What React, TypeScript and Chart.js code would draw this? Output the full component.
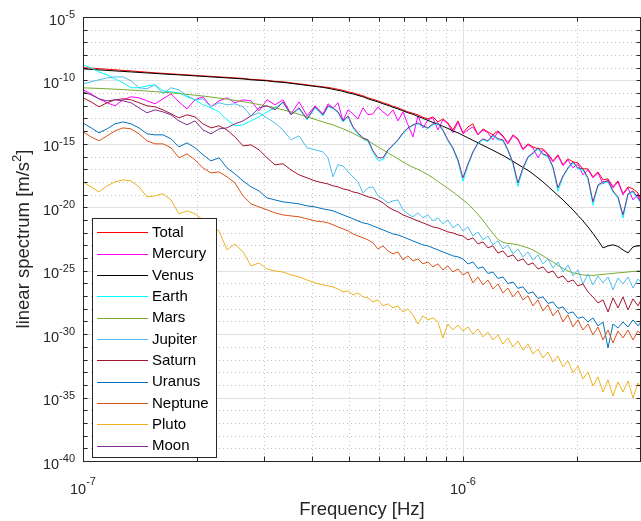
import React, { useEffect, useRef } from 'react';
import { Chart, registerables } from 'chart.js';

Chart.register(...registerables);

// Frequency grid [Hz]
const frequencyHz = [
  1.000e-7, 1.050e-7, 1.102e-7, 1.157e-7, 1.214e-7, 1.274e-7, 1.338e-7, 1.404e-7, 1.474e-7, 1.547e-7,
  1.624e-7, 1.704e-7, 1.789e-7, 1.878e-7, 1.971e-7, 2.069e-7, 2.172e-7, 2.280e-7, 2.393e-7, 2.512e-7,
  2.637e-7, 2.768e-7, 2.905e-7, 3.050e-7, 3.201e-7, 3.360e-7, 3.527e-7, 3.703e-7, 3.887e-7, 4.080e-7,
  4.283e-7,
  4.414e-7, 4.549e-7, 4.689e-7, 4.833e-7, 4.982e-7, 5.135e-7, 5.292e-7, 5.456e-7, 5.623e-7, 5.796e-7,
  5.974e-7, 6.158e-7, 6.347e-7, 6.542e-7, 6.743e-7, 6.950e-7, 7.164e-7, 7.384e-7, 7.611e-7, 7.845e-7,
  8.086e-7, 8.334e-7, 8.590e-7, 8.854e-7, 9.126e-7, 9.406e-7, 9.702e-7, 1.000e-6, 1.031e-6, 1.062e-6,
  1.095e-6, 1.129e-6, 1.163e-6, 1.199e-6, 1.236e-6, 1.274e-6, 1.313e-6, 1.354e-6, 1.395e-6, 1.438e-6,
  1.483e-6, 1.528e-6, 1.575e-6, 1.624e-6, 1.674e-6, 1.725e-6, 1.778e-6, 1.833e-6, 1.889e-6, 1.947e-6,
  2.007e-6, 2.069e-6, 2.133e-6, 2.198e-6, 2.266e-6, 2.336e-6, 2.408e-6, 2.482e-6, 2.558e-6, 2.637e-6,
  2.718e-6, 2.802e-6, 2.888e-6, 2.941e-6,
];

// Series values as log10 of the linear spectrum [m/s^2]
const totalExp = [
  -8.99, -9.03, -9.07, -9.12, -9.16, -9.21, -9.25, -9.30, -9.35, -9.40,
  -9.44, -9.48, -9.52, -9.56, -9.60, -9.64, -9.68, -9.72, -9.76, -9.80,
  -9.84, -9.91, -9.95, -9.99, -10.07, -10.11, -10.19, -10.27, -10.35, -10.43,
  -10.51,
  -10.55, -10.62, -10.70, -10.78, -10.90, -10.98, -11.10, -11.21, -11.37, -11.49,
  -11.61, -11.76, -11.88, -12.04, -12.16, -12.32, -12.48, -12.59, -12.71, -12.91,
  -13.03, -12.87, -13.27, -13.03, -13.35, -13.90, -13.19, -14.13, -13.66, -13.42,
  -14.29, -13.82, -14.05, -14.29, -13.98, -14.37, -14.92, -14.29, -14.60, -15.39,
  -15.00, -15.24, -15.39, -15.39, -15.79, -16.34, -15.86, -16.65, -16.18, -16.42,
  -16.50, -16.97, -16.97, -17.60, -17.21, -17.84, -17.76, -18.39, -17.92, -18.94,
  -18.39, -18.55, -18.87, -19.50,
];

const mercuryExp = [
  -10.74, -11.06, -11.45, -11.76, -12.00, -11.53, -11.29, -11.37, -11.61, -11.84,
  -11.45, -11.06, -11.69, -12.24, -11.53, -11.29, -12.08, -11.61, -11.37, -11.76,
  -11.53, -11.61, -12.40, -11.53, -11.92, -11.53, -12.63, -11.69, -12.79, -12.00,
  -12.63,
  -11.84, -12.16, -11.76, -13.19, -12.32, -12.63, -13.03, -12.16, -12.71, -12.63,
  -12.08, -12.48, -12.79, -12.32, -13.19, -12.48, -13.50, -14.45, -12.79, -13.74,
  -13.11, -12.95, -13.90, -13.11, -13.42, -14.13, -13.27, -14.21, -13.90, -13.66,
  -14.29, -13.90, -14.13, -14.68, -14.05, -14.45, -15.00, -14.37, -14.68, -15.47,
  -15.08, -15.31, -16.10, -15.47, -15.86, -16.42, -15.94, -16.73, -16.26, -16.89,
  -16.57, -17.44, -17.05, -17.68, -17.29, -18.16, -17.84, -18.47, -18.00, -19.02,
  -18.47, -19.42, -18.94, -19.81,
];

const venusExp = [
  -9.09, -9.13, -9.17, -9.21, -9.25, -9.29, -9.33, -9.37, -9.41, -9.45,
  -9.49, -9.53, -9.56, -9.60, -9.64, -9.68, -9.72, -9.76, -9.80, -9.84,
  -9.88, -9.95, -9.99, -10.03, -10.11, -10.15, -10.23, -10.31, -10.39, -10.47,
  -10.55,
  -10.62, -10.70, -10.78, -10.86, -10.98, -11.06, -11.18, -11.29, -11.45, -11.57,
  -11.69, -11.84, -11.96, -12.12, -12.24, -12.40, -12.55, -12.67, -12.83, -12.99,
  -13.15, -13.31, -13.46, -13.62, -13.78, -13.98, -14.13, -14.33, -14.53, -14.72,
  -14.92, -15.12, -15.31, -15.51, -15.71, -15.91, -16.14, -16.38, -16.62, -16.85,
  -17.09, -17.37, -17.68, -18.00, -18.35, -18.71, -19.06, -19.42, -19.81, -20.20,
  -20.64, -21.07, -21.55, -22.06, -22.61, -23.20, -23.04, -22.96, -23.08, -23.36,
  -23.60, -23.12, -23.04, -23.04,
];

const earthExp = [
  -8.77, -9.01, -9.33, -9.56, -9.88, -10.19, -10.58, -10.58, -10.43, -10.35,
  -10.82, -10.90, -10.98, -11.29, -11.53, -11.92, -12.16, -12.48, -13.11, -13.58,
  -13.50, -13.19, -12.87, -12.48, -12.16, -11.76, -12.71, -12.24, -13.11, -12.16,
  -12.79,
  -12.05, -12.22, -12.55, -13.28, -12.86, -13.75, -14.22, -14.62, -14.80, -15.66,
  -16.30, -16.25, -15.55, -15.15, -14.75, -14.20, -13.80, -13.56, -13.42, -13.64,
  -13.80, -13.50, -13.42, -13.98, -14.76, -15.40, -16.40, -17.95, -16.70, -15.70,
  -15.00, -14.68, -14.84, -14.38, -14.68, -14.76, -15.56, -16.62, -18.35, -17.00,
  -16.10, -15.78, -15.40, -15.86, -16.02, -16.92, -18.75, -17.62, -16.98, -16.50,
  -16.98, -17.06, -17.78, -19.85, -18.34, -18.08, -18.00, -18.80, -19.30, -20.85,
  -19.04, -18.80, -19.35, -19.66,
];

const marsExp = [
  -10.58, -10.61, -10.63, -10.66, -10.69, -10.72, -10.76, -10.80, -10.84, -10.88,
  -10.93, -10.98, -11.03, -11.10, -11.16, -11.23, -11.31, -11.39, -11.47, -11.57,
  -11.67, -11.78, -11.90, -12.03, -12.16, -12.32, -12.48, -12.67, -12.87, -13.07,
  -13.27,
  -13.39, -13.50, -13.66, -13.82, -13.98, -14.17, -14.37, -14.57, -14.76, -15.00,
  -15.24, -15.47, -15.71, -15.94, -16.18, -16.42, -16.65, -16.85, -17.01, -17.21,
  -17.44, -17.68, -17.96, -18.24, -18.51, -18.79, -19.10, -19.42, -19.73, -20.13,
  -20.56, -21.03, -21.55, -22.06, -22.53, -22.77, -22.85, -22.89, -22.96, -23.08,
  -23.20, -23.36, -23.60, -23.83, -24.07, -24.31, -24.58, -24.82, -25.02, -25.17,
  -25.25, -25.33, -25.37, -25.37, -25.33, -25.29, -25.25, -25.21, -25.17, -25.14,
  -25.10, -25.06, -25.02, -25.02,
];

const jupiterExp = [
  -10.27, -10.11, -9.95, -9.80, -9.72, -9.72, -10.03, -10.58, -10.66, -10.35,
  -11.06, -10.58, -10.74, -11.21, -11.53, -11.45, -12.08, -11.76, -11.92, -11.84,
  -12.08, -12.79, -12.55, -12.95, -13.35, -13.90, -14.68, -14.37, -15.31, -15.47,
  -15.63,
  -16.10, -17.60, -16.65, -16.73, -17.21, -17.60, -18.00, -18.87, -18.47, -18.39,
  -19.10, -19.34, -19.65, -19.50, -19.42, -20.20, -20.52, -20.75, -20.44, -20.83,
  -20.60, -21.07, -20.83, -21.31, -20.99, -21.62, -21.31, -21.86, -21.55, -22.26,
  -21.94, -22.57, -22.26, -22.96, -22.65, -23.28, -22.96, -23.67, -23.28, -23.91,
  -23.52, -24.15, -23.75, -24.46, -24.07, -24.78, -24.31, -25.10, -24.54, -25.41,
  -24.94, -26.05, -25.25, -26.12, -25.41, -25.96, -25.49, -26.51, -25.57, -26.04,
  -25.49, -26.36, -25.65, -25.96,
];

const saturnExp = [
  -11.37, -11.69, -12.08, -11.76, -11.53, -11.45, -11.53, -11.76, -12.00, -12.08,
  -12.32, -12.63, -12.95, -12.71, -12.87, -13.42, -13.74, -13.58, -13.90, -14.45,
  -15.16, -15.08, -15.47, -16.10, -16.65, -16.57, -17.05, -17.44, -17.68, -17.92,
  -18.08,
  -18.16, -18.31, -18.39, -18.55, -18.63, -18.79, -18.87, -19.02, -19.18, -19.26,
  -19.42, -19.65, -19.97, -20.20, -20.36, -20.60, -20.75, -20.91, -21.07, -21.23,
  -21.38, -21.55, -21.62, -21.78, -21.94, -22.02, -22.18, -22.26, -22.57, -22.41,
  -22.89, -22.73, -23.20, -23.04, -23.60, -23.44, -23.91, -23.75, -24.23, -24.07,
  -24.54, -24.39, -24.86, -24.70, -25.17, -25.02, -25.57, -25.41, -25.89, -25.73,
  -26.20, -26.04, -26.67, -27.06, -27.54, -27.30, -28.25, -27.14, -27.93, -27.06,
  -28.09, -27.22, -27.77, -27.30,
];

const uranusExp = [
  -13.35, -13.74, -14.13, -13.82, -13.42, -13.27, -13.42, -13.74, -14.21, -14.29,
  -14.29, -14.60, -15.24, -14.92, -15.31, -15.86, -16.34, -16.10, -16.89, -17.37,
  -17.92, -18.39, -18.71, -19.26, -19.42, -19.57, -19.65, -19.73, -19.89, -19.97,
  -20.13,
  -20.20, -20.28, -20.44, -20.60, -20.75, -20.91, -21.07, -21.23, -21.31, -21.47,
  -21.62, -21.78, -21.94, -22.10, -22.18, -22.33, -22.49, -22.65, -22.81, -22.96,
  -23.04, -23.20, -23.36, -23.52, -23.67, -23.83, -23.91, -24.07, -24.47, -24.31,
  -24.82, -24.70, -25.22, -25.10, -25.61, -25.49, -26.01, -25.89, -26.39, -26.27,
  -26.79, -26.67, -27.18, -27.06, -27.58, -27.46, -27.97, -27.85, -28.37, -28.25,
  -28.76, -28.64, -29.04, -28.72, -29.35, -29.04, -31.09, -29.20, -29.51, -29.04,
  -29.43, -28.88, -29.35, -29.04,
];

const neptuneExp = [
  -14.05, -14.45, -14.76, -14.37, -13.98, -13.74, -13.82, -14.21, -14.76, -15.00,
  -15.00, -15.31, -16.10, -15.79, -16.26, -16.89, -17.29, -17.21, -17.60, -18.08,
  -19.10, -19.73, -19.97, -20.20, -20.44, -20.60, -20.68, -20.75, -20.91, -21.07,
  -21.15,
  -21.23, -21.38, -21.55, -21.70, -21.86, -22.10, -22.26, -22.41, -22.57, -22.81,
  -23.28, -23.04, -23.44, -23.67, -23.52, -24.15, -23.83, -24.23, -24.07, -24.46,
  -24.31, -24.70, -24.46, -24.94, -24.62, -25.10, -24.86, -25.33, -25.10, -25.96,
  -25.49, -26.12, -25.73, -26.44, -26.04, -26.75, -26.36, -27.06, -26.59, -27.30,
  -26.98, -27.77, -27.30, -28.17, -27.69, -28.56, -28.09, -29.04, -28.48, -29.43,
  -28.88, -29.67, -29.20, -30.06, -29.43, -30.46, -29.67, -30.70, -29.75, -30.30,
  -29.67, -30.46, -29.75, -29.99,
];

const plutoExp = [
  -18.00, -18.39, -18.79, -18.31, -18.00, -17.84, -17.92, -18.39, -19.18, -19.10,
  -18.94, -19.42, -20.52, -20.28, -20.52, -20.99, -21.47, -21.86, -23.36, -22.89,
  -23.52, -24.62, -24.39, -24.86, -25.02, -25.10, -25.33, -25.49, -25.73, -25.96,
  -26.12,
  -26.20, -26.28, -26.44, -26.67, -26.59, -26.91, -26.75, -27.06, -27.14, -27.46,
  -27.30, -27.77, -27.61, -27.93, -27.77, -28.25, -28.01, -28.48, -29.20, -28.56,
  -28.88, -28.72, -29.04, -30.30, -29.20, -29.67, -29.28, -29.75, -29.43, -29.99,
  -29.59, -30.22, -29.83, -30.46, -30.06, -30.78, -30.30, -31.01, -30.54, -31.25,
  -30.78, -31.56, -31.17, -31.88, -31.41, -32.19, -31.72, -32.58, -32.11, -33.04,
  -32.50, -33.53, -32.98, -34.08, -33.37, -34.56, -33.61, -34.88, -33.77, -34.56,
  -33.69, -35.03, -33.85, -34.24,
];

const moonExp = [
  -10.90, -11.13, -11.45, -11.61, -11.53, -11.61, -11.76, -12.16, -12.55, -12.32,
  -12.48, -12.71, -13.19, -13.50, -13.19, -13.90, -14.21, -13.82, -13.74, -13.42,
  -13.19, -12.79, -12.16, -12.00, -12.32, -11.69, -12.71, -12.16, -13.03, -12.08,
  -12.71,
  -12.00, -12.16, -12.48, -13.19, -12.79, -13.66, -14.13, -14.53, -14.68, -15.55,
  -16.10, -16.10, -15.47, -15.08, -14.68, -14.13, -13.74, -13.50, -13.35, -13.58,
  -13.74, -13.42, -13.35, -13.90, -14.68, -15.31, -16.26, -17.68, -16.57, -15.63,
  -14.92, -14.60, -14.76, -14.29, -14.60, -14.68, -15.47, -16.50, -18.08, -16.89,
  -16.02, -15.71, -15.31, -15.79, -15.94, -16.81, -18.47, -17.52, -16.89, -16.42,
  -16.89, -16.97, -17.68, -19.57, -18.24, -18.00, -17.92, -18.71, -19.18, -20.60,
  -18.94, -18.71, -19.26, -19.57,
];

const seriesNames = ['Total', 'Mercury', 'Venus', 'Earth', 'Mars', 'Jupiter', 'Saturn', 'Uranus', 'Neptune', 'Pluto', 'Moon'];
const seriesColors = ['#FF0000', '#FF00FF', '#000000', '#00FFFF', '#77AC30', '#4DBEEE', '#A2142F', '#0072BD', '#D95319', '#EDB120', '#7E2F8E'];
const seriesExp = [totalExp, mercuryExp, venusExp, earthExp, marsExp, jupiterExp, saturnExp, uranusExp, neptuneExp, plutoExp, moonExp];

const yLabelExponents = [-5, -10, -15, -20, -25, -30, -35, -40];
const xLabelExponents = [-7, -6];
const xMinorValues = [2e-7, 3e-7, 4e-7, 5e-7, 6e-7, 7e-7, 8e-7, 9e-7, 2e-6];
const xTitle = 'Frequency [Hz]';
const yTitleMain = 'linear spectrum [m/s';
const yTitleSup = '2';
const yTitleEnd = ']';

const FONT = '"Liberation Sans", Arial, Helvetica, sans-serif';
const AXIS = '#262626';

const matlabPlugin = {
  id: 'matlabAxes',
  beforeDatasetsDraw(chart: any) {
    const { ctx, chartArea: a, scales } = chart;
    const xs = scales.x;
    const ys = scales.y;
    ctx.save();
    ctx.lineWidth = 1;
    ctx.strokeStyle = '#c2c2c2';
    ctx.setLineDash([1, 3]);
    ctx.beginPath();
    for (let e = -39; e <= -6; e++) {
      if (e % 5 === 0) continue;
      const py = Math.round(ys.getPixelForValue(Math.pow(10, e))) + 0.5;
      ctx.moveTo(a.left, py);
      ctx.lineTo(a.right, py);
    }
    for (const v of xMinorValues) {
      const px = Math.round(xs.getPixelForValue(v)) + 0.5;
      ctx.moveTo(px, a.top);
      ctx.lineTo(px, a.bottom);
    }
    ctx.stroke();
    ctx.setLineDash([]);
    ctx.strokeStyle = '#e0e0e0';
    ctx.beginPath();
    for (let e = -35; e <= -10; e += 5) {
      const py = Math.round(ys.getPixelForValue(Math.pow(10, e))) + 0.5;
      ctx.moveTo(a.left, py);
      ctx.lineTo(a.right, py);
    }
    const p6 = Math.round(xs.getPixelForValue(1e-6)) + 0.5;
    ctx.moveTo(p6, a.top);
    ctx.lineTo(p6, a.bottom);
    ctx.stroke();
    ctx.restore();
  },
  afterDatasetsDraw(chart: any) {
    const { ctx, chartArea: a, scales } = chart;
    const xs = scales.x;
    const ys = scales.y;
    ctx.save();
    // axes box
    ctx.strokeStyle = AXIS;
    ctx.lineWidth = 1;
    ctx.beginPath();
    ctx.moveTo(a.left + 0.5, a.top);
    ctx.lineTo(a.left + 0.5, a.bottom + 1);
    ctx.moveTo(a.left, a.bottom + 0.5);
    ctx.lineTo(a.right, a.bottom + 0.5);
    ctx.moveTo(a.left, a.top + 0.5);
    ctx.lineTo(a.right, a.top + 0.5);
    ctx.moveTo(a.right - 0.5, a.top);
    ctx.lineTo(a.right - 0.5, a.bottom);
    // y ticks
    for (let e = -39; e <= -6; e++) {
      const py = Math.round(ys.getPixelForValue(Math.pow(10, e))) + 0.5;
      ctx.moveTo(a.left, py);
      ctx.lineTo(a.left + 4.5, py);
      ctx.moveTo(a.right, py);
      ctx.lineTo(a.right - 4.5, py);
    }
    // x ticks
    const xt = [...xMinorValues, 1e-6];
    for (const v of xt) {
      const px = Math.round(xs.getPixelForValue(v)) + 0.5;
      ctx.moveTo(px, a.bottom);
      ctx.lineTo(px, a.bottom - 4.5);
      ctx.moveTo(px, a.top);
      ctx.lineTo(px, a.top + 4.5);
    }
    ctx.stroke();

    // tick labels
    ctx.fillStyle = AXIS;
    ctx.textBaseline = 'alphabetic';
    const baseFont = `14.5px ${FONT}`;
    const supFont = `11px ${FONT}`;
    for (const e of yLabelExponents) {
      const py = ys.getPixelForValue(Math.pow(10, e));
      const expStr = '-' + String(-e);
      ctx.font = supFont;
      const we = ctx.measureText(expStr).width;
      ctx.textAlign = 'left';
      const right = a.left - 8;
      ctx.fillText(expStr, right - we, py + 1);
      ctx.font = baseFont;
      const wb = ctx.measureText('10').width;
      ctx.fillText('10', right - we - wb, py + 7.5);
    }
    for (const e of xLabelExponents) {
      const px = xs.getPixelForValue(Math.pow(10, e));
      const expStr = '-' + String(-e);
      ctx.font = supFont;
      const we = ctx.measureText(expStr).width;
      ctx.font = baseFont;
      const wb = ctx.measureText('10').width;
      const start = px - (wb + we) / 2;
      ctx.textAlign = 'left';
      ctx.fillText('10', start, a.bottom + 33);
      ctx.font = supFont;
      ctx.fillText(expStr, start + wb, a.bottom + 24);
    }

    // axis titles
    ctx.font = `18.5px ${FONT}`;
    ctx.textAlign = 'center';
    ctx.fillText(xTitle, (a.left + a.right) / 2, 515);

    ctx.save();
    ctx.translate(22, (a.top + a.bottom) / 2);
    ctx.rotate(-Math.PI / 2);
    ctx.font = `18.5px ${FONT}`;
    const w1 = ctx.measureText(yTitleMain).width;
    const w3 = ctx.measureText(yTitleEnd).width;
    ctx.font = `13px ${FONT}`;
    const w2 = ctx.measureText(yTitleSup).width;
    const tot = w1 + w2 + w3;
    let sx = -tot / 2;
    ctx.textAlign = 'left';
    ctx.font = `18.5px ${FONT}`;
    ctx.fillText(yTitleMain, sx, 6.5);
    sx += w1;
    ctx.font = `13px ${FONT}`;
    ctx.fillText(yTitleSup, sx, -1.5);
    sx += w2;
    ctx.font = `18.5px ${FONT}`;
    ctx.fillText(yTitleEnd, sx, 6.5);
    ctx.restore();

    // legend
    const lx = 92.5;
    const ly = 218.5;
    const lw = 124;
    const lh = 239;
    ctx.fillStyle = '#ffffff';
    ctx.fillRect(lx, ly, lw, lh);
    ctx.strokeStyle = AXIS;
    ctx.lineWidth = 1;
    ctx.strokeRect(lx, ly, lw, lh);
    ctx.font = `15px ${FONT}`;
    ctx.textBaseline = 'middle';
    ctx.textAlign = 'left';
    seriesNames.forEach((name, i) => {
      const cy = 232.3 + i * 21.34;
      const yLine = Math.round(cy) + 0.5;
      ctx.strokeStyle = seriesColors[i];
      ctx.lineWidth = 1;
      ctx.beginPath();
      ctx.moveTo(97, yLine);
      ctx.lineTo(148, yLine);
      ctx.stroke();
      ctx.fillStyle = '#000000';
      ctx.fillText(name, 152, cy + 0.5);
    });
    ctx.restore();
  },
};

export default function App() {
  const canvasRef = useRef<HTMLCanvasElement | null>(null);

  useEffect(() => {
    const canvas = canvasRef.current;
    if (!canvas) return;
    const chart = new Chart(canvas, {
      type: 'line',
      data: {
        datasets: seriesNames.map((name, i) => ({
          label: name,
          data: frequencyHz.map((f, k) => ({ x: f, y: Math.pow(10, seriesExp[i][k]) })),
          borderColor: seriesColors[i],
          backgroundColor: seriesColors[i],
          borderWidth: 1,
          pointRadius: 0,
          pointHoverRadius: 0,
          tension: 0,
          fill: false,
          order: seriesNames.length - 1 - i,
        })),
      },
      options: {
        animation: false,
        responsive: false,
        devicePixelRatio: 1,
        events: [],
        layout: { padding: { top: 17, left: 0, right: 0, bottom: 0 } },
        plugins: {
          legend: { display: false },
          tooltip: { enabled: false },
        },
        scales: {
          x: {
            type: 'logarithmic',
            min: 1e-7,
            max: 2.941e-6,
            grid: { display: false },
            border: { display: false },
            ticks: { display: false },
            afterFit: (s: any) => { s.height = 60; },
          },
          y: {
            type: 'logarithmic',
            min: 1e-40,
            max: 1e-5,
            grid: { display: false },
            border: { display: false },
            ticks: { display: false },
            afterFit: (s: any) => { s.width = 83; },
          },
        },
      } as any,
      plugins: [matlabPlugin],
    });
    return () => chart.destroy();
  }, []);

  return (
    <div style={{ position: 'absolute', left: 0, top: 0, width: 641, height: 521, background: '#fff' }}>
      <canvas ref={canvasRef} width={641} height={521} style={{ display: 'block' }} />
    </div>
  );
}
